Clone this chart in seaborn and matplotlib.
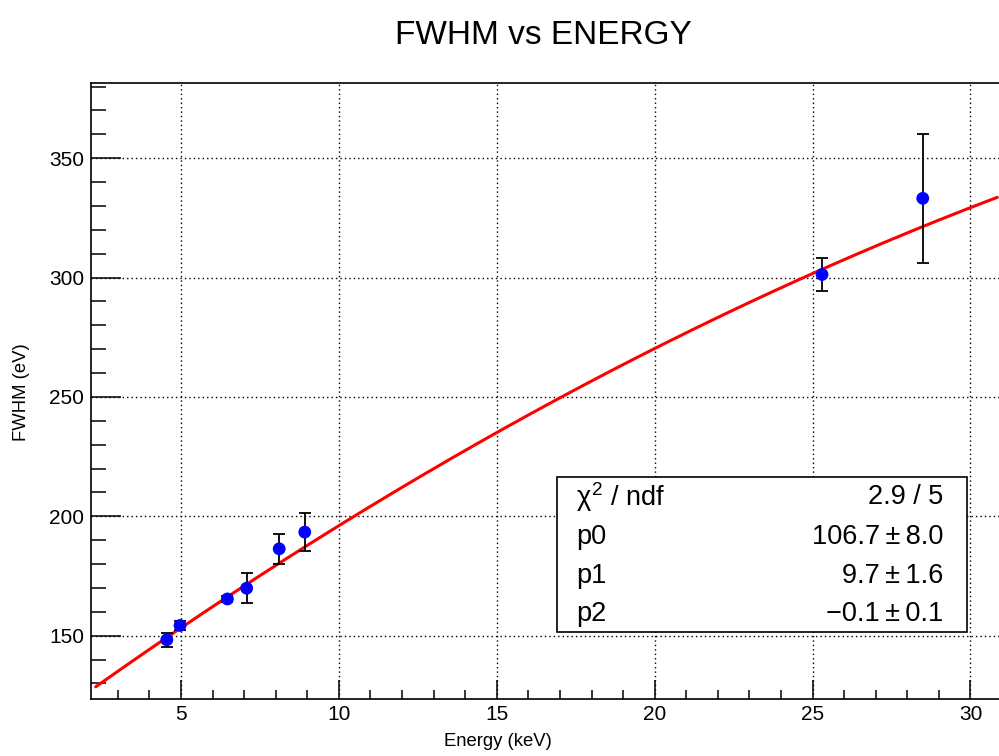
import numpy as np
import pandas as pd
import matplotlib
matplotlib.use("Agg")
import matplotlib.pyplot as plt
from matplotlib.patches import Rectangle
from matplotlib.ticker import MultipleLocator
import seaborn as sns

# Measured line widths (keV -> eV)
energy = [4.55, 4.97, 6.47, 7.08, 8.11, 8.92, 25.3, 28.49]
fwhm = [148.3, 154.3, 165.4, 169.9, 186.4, 193.4, 301.3, 333.2]
fwhm_err = [2.9, 2.0, 1.3, 6.2, 6.2, 8.1, 7.1, 27.1]

# Quadratic fit: p0 + p1*E + p2*E^2
par_names = ["p0", "p1", "p2"]
par_values = [106.7, 9.7, -0.076]
par_errors = [8.0, 1.6, 0.1]
chi2, ndf = 2.9, 5

x_range = [2.15, 30.92]
y_range = [123.5, 381.5]

sns.set_style("white")
plt.rcParams["font.family"] = ["Liberation Sans", "DejaVu Sans"]
plt.rcParams["mathtext.fontset"] = "custom"
plt.rcParams["mathtext.rm"] = "Liberation Sans"
plt.rcParams["mathtext.it"] = "Liberation Sans"
plt.rcParams["text.color"] = "black"

W, H = 999, 756
fig = plt.figure(figsize=(W / 100, H / 100), dpi=100)
fig.patch.set_facecolor("white")
ax = fig.add_axes([91 / W, 1 - 699 / H, (999.5 - 91) / W, (699 - 83) / H])

df = pd.DataFrame({"energy": energy, "fwhm": fwhm, "err": fwhm_err})

# fitted curve
xs = np.linspace(2.3, 30.85, 300)
ys = par_values[0] + par_values[1] * xs + par_values[2] * xs ** 2
sns.lineplot(x=xs, y=ys, ax=ax, color="#ff0000", lw=2.2, zorder=3)

# error bars and points
ax.errorbar(df["energy"], df["fwhm"], yerr=df["err"], fmt="none",
            ecolor="black", elinewidth=1.3, capsize=4.5, capthick=1.3, zorder=4)
sns.scatterplot(data=df, x="energy", y="fwhm", ax=ax, color="#0000ff",
                s=85, edgecolor="none", zorder=5)

ax.set_xlim(*x_range)
ax.set_ylim(*y_range)
ax.xaxis.set_major_locator(MultipleLocator(5))
ax.xaxis.set_minor_locator(MultipleLocator(1))
ax.yaxis.set_major_locator(MultipleLocator(50))
ax.yaxis.set_minor_locator(MultipleLocator(10))

ax.grid(True, which="major", color="black", linestyle=(0, (1, 2.2)), linewidth=1.0)
ax.set_axisbelow(True)

for s in ax.spines.values():
    s.set_linewidth(1.2)
    s.set_color("black")

ax.tick_params(axis="both", which="both", direction="in", colors="black",
               width=1.1, labelsize=15, top=False, right=False,
               left=True, bottom=True)
ax.tick_params(axis="y", which="major", length=21.5, pad=5)
ax.tick_params(axis="y", which="minor", length=10.8)
ax.tick_params(axis="x", which="major", length=13.7, pad=4)
ax.tick_params(axis="x", which="minor", length=6.5)

ax.set_xlabel("")
ax.set_ylabel("")
fig.text(498 / W, 1 - 741 / H, "Energy (keV)", ha="center", va="center",
         fontsize=13.3, color="black")
fig.text(22 / W, 1 - 392 / H, "FWHM (eV)", ha="center", va="center",
         rotation=90, fontsize=13.3, color="black")
fig.text(543 / W, 1 - 35 / H, "FWHM vs ENERGY", ha="center", va="center",
         fontsize=24, color="black")

# statistics box
bx0, by0, bx1, by1 = 557, 477, 967, 632
fig.patches.append(Rectangle((bx0 / W, 1 - by1 / H), (bx1 - bx0) / W, (by1 - by0) / H,
                             transform=fig.transFigure, facecolor="white",
                             edgecolor="black", linewidth=1.2, zorder=10))
rows_y = [497, 537, 576, 614]
left_txt = [r"$\chi^{2}$ / ndf"] + par_names
right_txt = [f"{chi2:.1f} / {ndf}"] + [
    f"{v:.1f}\u2009±\u2009{e:.1f}".replace("-", "\u2212")
    for v, e in zip(par_values, par_errors)]
for yy, lt, rt in zip(rows_y, left_txt, right_txt):
    fig.text(576 / W, 1 - yy / H, lt, ha="left", va="center", fontsize=19.5,
             color="black", zorder=11)
    fig.text(943 / W, 1 - yy / H, rt, ha="right", va="center", fontsize=19.5,
             color="black", zorder=11)

fig.savefig("out.png", dpi=100, facecolor="white")
